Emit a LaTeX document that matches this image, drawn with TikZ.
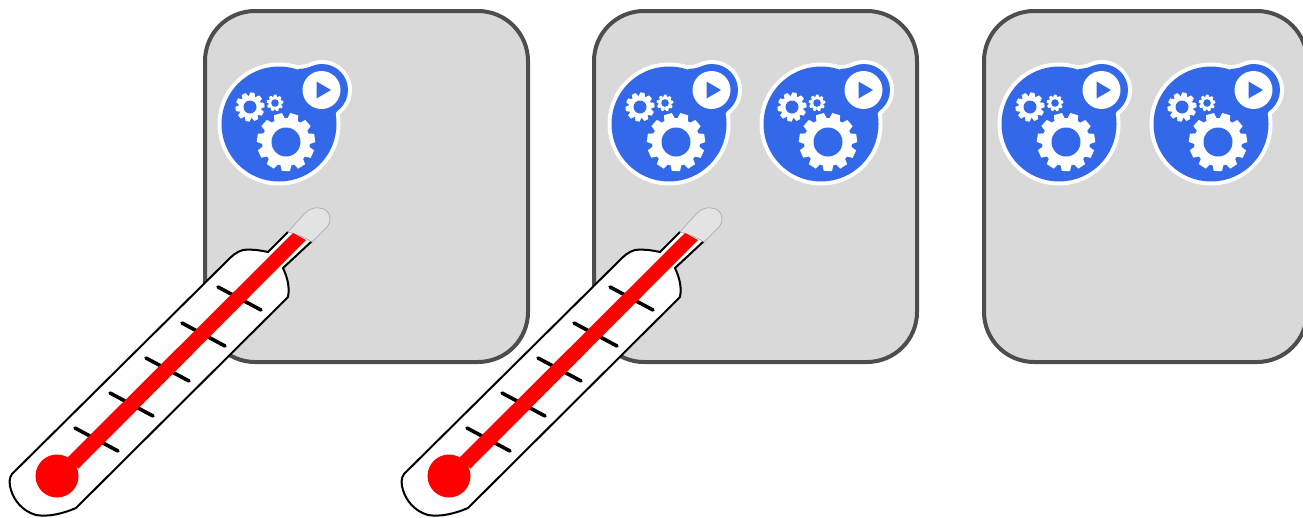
\documentclass[tikz,border=0pt]{standalone}
\definecolor{boxfill}{HTML}{D9D9D9}
\definecolor{boxline}{HTML}{4D4D4D}
\definecolor{iconblue}{HTML}{3369E8}
\definecolor{capgray}{HTML}{E3E3E3}
\tikzset{
  panel/.style={draw=boxline,line width=4pt,fill=boxfill,rounded corners=50pt,minimum width=323pt,minimum height=351pt,inner sep=0pt,outer sep=0pt},
  tick/.style={line width=3.6pt,line cap=round,draw=black},
  gearicon/.pic={
    \fill[white] (279,124) circle (61.5pt);
    \fill[white] (322,90) circle (30pt);
    \fill[white] (296,65) .. controls (304,66) and (310,62) .. (322,60) -- (340,110) -- (332,135) -- cycle;
    \fill[iconblue] (279,124) circle (57.5pt);
    \fill[iconblue] (322,90) circle (26pt);
    \fill[iconblue] (298,69) .. controls (305,69) and (312,66) .. (322,64) -- (338,108) -- (330,128) -- cycle;
    \fill[white] (321.5,90) circle (19pt);
    \fill[iconblue] (316.5,81.5) -- (331,90) -- (316.5,98.5) -- cycle;
    \gearshape{286}{142}{24}{29}{14.5}{11}{4.4}
    \gearshape{250}{107}{11}{14.5}{6.5}{10}{2.4}
    \gearshape{275}{103}{6}{8.3}{3.8}{9}{1.4}
  },
  thermo/.pic={
    \draw[line width=2pt,fill=white,line join=round]
      (288,232) -- (268,252)
      .. controls (258,250) and (252,249) .. (243,250)
      .. controls (236,252) and (232,256) .. (228,260)
      -- (12,474)
      .. controls (9,478) and (9,484) .. (11,490)
      .. controls (14,500) and (22,511) .. (36,515)
      .. controls (48,517) and (62,514) .. (76,508)
      -- (288,297)
      .. controls (290,286) and (287,277) .. (283,268)
      -- (312,241);
    \draw[draw=gray!70,line width=.6pt,fill=capgray]
      (288,232) -- (304,214)
      .. controls (309,209) and (314,207) .. (319,208)
      .. controls (326,208) and (330,213) .. (330,219)
      .. controls (330,224) and (327,227) .. (325,229)
      -- (312,242) .. controls (304,237) and (296,234) .. (288,232);
    \foreach \ya/\xa in {287/218,323/182,358/146,393/110,428/75}
      \draw[tick] (\xa,\ya) -- ++(43,23);
    \fill[red] (67.5,457.5) -- (293,233) -- (306,240) -- (78.5,468.5) -- cycle;
    \fill[red] (57,476) circle (21.5pt);
  }
}
\newcommand{\gearshape}[7]{%
  \begin{scope}[shift={(#1,#2)}]
    \fill[white] (0,0) circle (#3pt);
    \foreach \k in {1,...,#6}
      \fill[white,rotate=\k*360/#6+8]
        (#3-1,-#7-1) -- (#4,-#7+0.3) -- (#4,#7-0.3) -- (#3-1,#7+1) -- cycle;
    \fill[iconblue] (0,0) circle (#5pt);
  \end{scope}%
}
\begin{document}
\begin{tikzpicture}[x=1pt,y=-1pt]
\useasboundingbox (0,0) rectangle (1303,517);
\clip (0,0) rectangle (1303,517);
\node[panel] (boxa) at (366.5,186.5) {};
\node[panel] (boxb) at (755.5,186.5) {};
\node[panel] (boxc) at (1145.5,186.5) {};
\pic at (0,0) {gearicon};
\pic at (390,0) {gearicon};
\pic at (542,0) {gearicon};
\pic at (780,0) {gearicon};
\pic at (932,0) {gearicon};
\pic at (0,0) {thermo};
\pic at (392,0) {thermo};
\end{tikzpicture}
\end{document}
